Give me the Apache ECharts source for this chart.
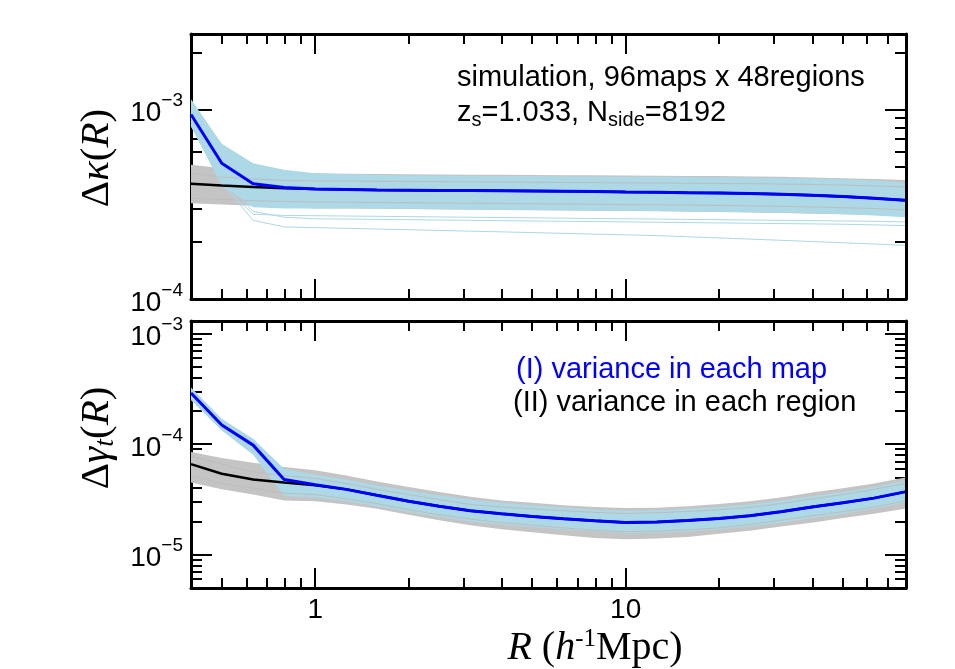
<!DOCTYPE html>
<html>
<head>
<meta charset="utf-8">
<script src="https://cdn.jsdelivr.net/npm/echarts@6/dist/echarts.min.js"></script>
<style>html,body{margin:0;padding:0;background:#fff}#c{width:955px;height:669px}</style>
</head>
<body>
<div id="c"></div>
<script>
// ---- data ----
const R = [0.398,0.5,0.631,0.794,1.0,1.26,1.58,2.0,2.51,3.16,3.98,5.01,6.31,7.94,10,12.6,15.8,20,25.1,31.6,39.8,50.1,63.1,79.4];

// top panel: Delta kappa
const kMap   = [9.4e-4,5.2e-4,4.05e-4,3.87e-4,3.80e-4,3.78e-4,3.76e-4,3.75e-4,3.74e-4,3.73e-4,3.72e-4,3.71e-4,3.70e-4,3.69e-4,3.67e-4,3.66e-4,3.64e-4,3.62e-4,3.60e-4,3.57e-4,3.53e-4,3.47e-4,3.40e-4,3.32e-4];
const kReg   = [4.05e-4,3.97e-4,3.90e-4,3.84e-4,3.80e-4,3.78e-4,3.76e-4,3.75e-4,3.74e-4,3.73e-4,3.72e-4,3.71e-4,3.70e-4,3.69e-4,3.67e-4,3.66e-4,3.64e-4,3.62e-4,3.60e-4,3.57e-4,3.53e-4,3.47e-4,3.40e-4,3.32e-4];
const kMapHi = [1.13e-3,6.6e-4,5.2e-4,4.8e-4,4.6e-4,4.55e-4,4.52e-4,4.5e-4,4.48e-4,4.47e-4,4.46e-4,4.45e-4,4.44e-4,4.43e-4,4.42e-4,4.41e-4,4.4e-4,4.39e-4,4.37e-4,4.35e-4,4.32e-4,4.28e-4,4.22e-4,4.12e-4];
const kMapLo = [8.1e-4,4.0e-4,3.05e-4,3.0e-4,3.0e-4,3.0e-4,3.0e-4,2.99e-4,2.98e-4,2.97e-4,2.96e-4,2.95e-4,2.94e-4,2.93e-4,2.92e-4,2.91e-4,2.9e-4,2.89e-4,2.87e-4,2.85e-4,2.83e-4,2.8e-4,2.76e-4,2.7e-4];
const kRegHi = [5.1e-4,4.9e-4,4.75e-4,4.65e-4,4.6e-4,4.58e-4,4.56e-4,4.55e-4,4.54e-4,4.53e-4,4.52e-4,4.51e-4,4.5e-4,4.49e-4,4.48e-4,4.47e-4,4.46e-4,4.45e-4,4.43e-4,4.41e-4,4.38e-4,4.34e-4,4.3e-4,4.25e-4];
const kRegLo = [3.2e-4,3.15e-4,3.1e-4,3.05e-4,3.0e-4,3.0e-4,2.99e-4,2.98e-4,2.97e-4,2.96e-4,2.95e-4,2.94e-4,2.93e-4,2.92e-4,2.91e-4,2.9e-4,2.89e-4,2.88e-4,2.86e-4,2.84e-4,2.82e-4,2.8e-4,2.77e-4,2.74e-4];
const kOutA  = [8.6e-4,4.1e-4,2.6e-4,2.4e-4,2.38e-4,2.36e-4,2.34e-4,2.32e-4,2.3e-4,2.28e-4,2.26e-4,2.24e-4,2.22e-4,2.2e-4,2.18e-4,2.16e-4,2.13e-4,2.1e-4,2.07e-4,2.04e-4,2.01e-4,1.98e-4,1.95e-4,1.92e-4];
const kOutB  = [9.0e-4,4.4e-4,2.9e-4,2.7e-4,2.65e-4,2.64e-4,2.63e-4,2.62e-4,2.61e-4,2.6e-4,2.59e-4,2.58e-4,2.57e-4,2.56e-4,2.55e-4,2.54e-4,2.53e-4,2.52e-4,2.51e-4,2.5e-4,2.49e-4,2.48e-4,2.46e-4,2.44e-4];
const kOutC  = [8.3e-4,4.0e-4,2.8e-4,2.76e-4,2.75e-4,2.74e-4,2.73e-4,2.72e-4,2.71e-4,2.7e-4,2.69e-4,2.68e-4,2.67e-4,2.66e-4,2.65e-4,2.64e-4,2.63e-4,2.62e-4,2.61e-4,2.6e-4,2.59e-4,2.58e-4,2.57e-4,2.55e-4];
// a few individual region lines showing through the band
const kRegA  = [4.6e-4,4.4e-4,4.3e-4,4.22e-4,4.2e-4,4.19e-4,4.18e-4,4.17e-4,4.16e-4,4.15e-4,4.14e-4,4.13e-4,4.12e-4,4.11e-4,4.1e-4,4.09e-4,4.08e-4,4.07e-4,4.06e-4,4.04e-4,4.02e-4,3.99e-4,3.95e-4,3.9e-4];
const kRegB  = [3.4e-4,3.35e-4,3.3e-4,3.27e-4,3.25e-4,3.24e-4,3.23e-4,3.22e-4,3.21e-4,3.2e-4,3.19e-4,3.18e-4,3.17e-4,3.16e-4,3.15e-4,3.14e-4,3.13e-4,3.12e-4,3.1e-4,3.08e-4,3.06e-4,3.03e-4,3.0e-4,2.95e-4];

// bottom panel: Delta gamma_t
const gMap   = [2.9e-4,1.49e-4,9.8e-5,4.8e-5,4.3e-5,3.9e-5,3.45e-5,3.05e-5,2.75e-5,2.5e-5,2.35e-5,2.22e-5,2.12e-5,2.03e-5,1.96e-5,1.98e-5,2.04e-5,2.13e-5,2.25e-5,2.45e-5,2.7e-5,2.95e-5,3.25e-5,3.7e-5];
const gReg   = [6.6e-5,5.4e-5,4.8e-5,4.5e-5,4.25e-5,3.9e-5,3.45e-5,3.05e-5,2.75e-5,2.5e-5,2.35e-5,2.22e-5,2.12e-5,2.03e-5,1.96e-5,1.98e-5,2.04e-5,2.13e-5,2.25e-5,2.45e-5,2.7e-5,2.95e-5,3.25e-5,3.7e-5];
const gMapHi = [3.25e-4,1.7e-4,1.12e-4,6.0e-5,5.3e-5,4.8e-5,4.25e-5,3.8e-5,3.45e-5,3.15e-5,2.95e-5,2.8e-5,2.67e-5,2.57e-5,2.5e-5,2.52e-5,2.6e-5,2.7e-5,2.85e-5,3.1e-5,3.4e-5,3.7e-5,4.1e-5,4.7e-5];
const gMapLo = [2.5e-4,1.33e-4,8.0e-5,3.4e-5,3.3e-5,3.05e-5,2.75e-5,2.45e-5,2.2e-5,2.0e-5,1.88e-5,1.78e-5,1.7e-5,1.63e-5,1.57e-5,1.58e-5,1.62e-5,1.7e-5,1.8e-5,1.95e-5,2.15e-5,2.35e-5,2.6e-5,2.95e-5];
const gRegHi = [8.5e-5,7.5e-5,6.8e-5,6.2e-5,5.8e-5,5.2e-5,4.6e-5,4.1e-5,3.7e-5,3.35e-5,3.1e-5,2.95e-5,2.8e-5,2.7e-5,2.64e-5,2.66e-5,2.75e-5,2.88e-5,3.05e-5,3.3e-5,3.65e-5,4.0e-5,4.4e-5,5.0e-5];
const gRegLo = [4.5e-5,3.9e-5,3.5e-5,3.1e-5,3.05e-5,2.85e-5,2.6e-5,2.3e-5,2.05e-5,1.85e-5,1.7e-5,1.6e-5,1.5e-5,1.42e-5,1.38e-5,1.4e-5,1.45e-5,1.55e-5,1.65e-5,1.8e-5,1.95e-5,2.15e-5,2.35e-5,2.6e-5];
const gRegA  = [7.8e-5,6.6e-5,5.6e-5,5.2e-5,4.9e-5,4.4e-5,3.9e-5,3.5e-5,3.15e-5,2.85e-5,2.7e-5,2.6e-5,2.5e-5,2.42e-5,2.36e-5,2.4e-5,2.46e-5,2.55e-5,2.68e-5,2.9e-5,3.2e-5,3.5e-5,3.9e-5,4.4e-5];
const gRegB  = [5.2e-5,4.4e-5,4.0e-5,3.6e-5,3.5e-5,3.2e-5,2.9e-5,2.55e-5,2.3e-5,2.1e-5,1.95e-5,1.85e-5,1.75e-5,1.66e-5,1.62e-5,1.63e-5,1.68e-5,1.75e-5,1.87e-5,2.05e-5,2.25e-5,2.45e-5,2.7e-5,3.05e-5];

// axis ticks
const xRange = [0.398, 80];
const xMajor = [1, 10];
const xMinor = [0.5,0.6,0.7,0.8,0.9,2,3,4,5,6,7,8,9,20,30,40,50,60,70,80];
const yTopRange = [1e-4, 2.5e-3];
const yTopMajor = [1e-4, 1e-3];
const yTopMinor = [2e-4,3e-4,4e-4,5e-4,6e-4,7e-4,8e-4,9e-4,2e-3];
const yBotRange = [5e-6, 1.3e-3];
const yBotMajor = [1e-5, 1e-4, 1e-3];
const yBotMinor = [6e-6,7e-6,8e-6,9e-6,2e-5,3e-5,4e-5,5e-5,6e-5,7e-5,8e-5,9e-5,2e-4,3e-4,4e-4,5e-4,6e-4,7e-4,8e-4,9e-4];

// ---- build ----
const L = Math.log10;
const SANS = 'Liberation Sans, Arial, sans-serif';
const SERIF = 'Liberation Serif, Times New Roman, serif';
const chart = echarts.init(document.getElementById('c'), null, {renderer: 'canvas'});

const axisLineStyle = {color: '#000', width: 3};
const tickStyle = {width: 2, color: '#000'};
function xAxes(g, showLabels) {
  const base = {gridIndex: g, type: 'value', min: L(xRange[0]), max: L(xRange[1]), splitLine: {show: false}, axisPointer: {show: false}};
  const lab = {show: showLabels, customValues: xMajor.map(L), formatter: v => String(Math.round(Math.pow(10, v))),
               fontFamily: SANS, fontSize: 28, color: '#000', margin: 8};
  return [
    Object.assign({}, base, {position: 'bottom', axisLine: {show: true, onZero: false, lineStyle: axisLineStyle},
      axisTick: {show: true, inside: true, length: 20, customValues: xMajor.map(L), lineStyle: tickStyle}, axisLabel: lab}),
    Object.assign({}, base, {position: 'bottom', axisLine: {show: false, onZero: false},
      axisTick: {show: true, inside: true, length: 10, customValues: xMinor.map(L), lineStyle: tickStyle}, axisLabel: {show: false}}),
    Object.assign({}, base, {position: 'top', axisLine: {show: true, onZero: false, lineStyle: axisLineStyle},
      axisTick: {show: true, inside: true, length: 20, customValues: xMajor.map(L), lineStyle: tickStyle}, axisLabel: {show: false}}),
    Object.assign({}, base, {position: 'top', axisLine: {show: false, onZero: false},
      axisTick: {show: true, inside: true, length: 10, customValues: xMinor.map(L), lineStyle: tickStyle}, axisLabel: {show: false}})
  ];
}
function yAxes(g, range, major, minor) {
  const base = {gridIndex: g, type: 'value', min: L(range[0]), max: L(range[1]), splitLine: {show: false}, axisPointer: {show: false}};
  const lab = {show: true, customValues: major.map(L), margin: 8,
    formatter: v => '{b|10}{s|−' + Math.round(-v) + '}',
    rich: {b: {fontFamily: SANS, fontSize: 28, color: '#000', lineHeight: 36, verticalAlign: 'bottom'},
           s: {fontFamily: SANS, fontSize: 19, color: '#000', lineHeight: 19, verticalAlign: 'top'}}};
  return [
    Object.assign({}, base, {position: 'left', axisLine: {show: true, onZero: false, lineStyle: axisLineStyle},
      axisTick: {show: true, inside: true, length: 21, customValues: major.map(L), lineStyle: tickStyle}, axisLabel: lab}),
    Object.assign({}, base, {position: 'left', axisLine: {show: false, onZero: false},
      axisTick: {show: true, inside: true, length: 11, customValues: minor.map(L), lineStyle: tickStyle}, axisLabel: {show: false}}),
    Object.assign({}, base, {position: 'right', axisLine: {show: true, onZero: false, lineStyle: axisLineStyle},
      axisTick: {show: true, inside: true, length: 21, customValues: major.map(L), lineStyle: tickStyle}, axisLabel: {show: false}}),
    Object.assign({}, base, {position: 'right', axisLine: {show: false, onZero: false},
      axisTick: {show: true, inside: true, length: 11, customValues: minor.map(L), lineStyle: tickStyle}, axisLabel: {show: false}})
  ];
}

function line(g, vals, color, width, z) {
  return {type: 'line', xAxisIndex: g * 4, yAxisIndex: g * 4, data: R.map((r, i) => [L(r), L(vals[i])]),
    showSymbol: false, symbol: 'none', lineStyle: {color: color, width: width}, z: z, silent: true, clip: true};
}
function band(g, hi, lo, color, z) {
  const d = R.map((r, i) => [L(r), L(hi[i]), L(lo[i])]);
  return {type: 'custom', xAxisIndex: g * 4, yAxisIndex: g * 4, data: d, encode: {x: 0, y: [1, 2]}, z: z, silent: true,
    renderItem: function (params, api) {
      if (params.dataIndex !== 0) return null;
      const pts = [];
      for (let i = 0; i < d.length; i++) pts.push(api.coord([d[i][0], d[i][1]]));
      for (let i = d.length - 1; i >= 0; i--) pts.push(api.coord([d[i][0], d[i][2]]));
      return {type: 'polygon', shape: {points: pts}, style: {fill: color}};
    }};
}

const GRAY = '#c4c4c4', LBLUE = '#add8e6';
const series = [
  band(0, kRegHi, kRegLo, GRAY, 1),
  band(0, kMapHi, kMapLo, LBLUE, 2),
  line(0, kRegA, '#bdbdbd', 1, 3), line(0, kRegB, '#bdbdbd', 1, 3),
  line(0, kOutA, LBLUE, 1, 3), line(0, kOutB, LBLUE, 1, 3), line(0, kOutC, LBLUE, 1, 3),
  line(0, kReg, '#000', 2.5, 4),
  line(0, kMap, '#0000ff', 3, 5),
  band(1, gRegHi, gRegLo, GRAY, 1),
  band(1, gMapHi, gMapLo, LBLUE, 2),
  line(1, gRegA, '#bdbdbd', 1, 3), line(1, gRegB, '#bdbdbd', 1, 3),
  line(1, gReg, '#000', 2.5, 4),
  line(1, gMap, '#0000ff', 3, 5)
];

const option = {
  animation: false,
  backgroundColor: '#fff',
  grid: [
    {left: 191, top: 34, width: 715, height: 265},
    {left: 191, top: 321, width: 715, height: 267}
  ],
  xAxis: [].concat(xAxes(0, false), xAxes(1, true)),
  yAxis: [].concat(yAxes(0, yTopRange, yTopMajor, yTopMinor), yAxes(1, yBotRange, yBotMajor, yBotMinor)),
  series: series,
  graphic: [
    {type: 'text', x: 457, y: 78, z: 10, style: {text: 'simulation, 96maps x 48regions', font: '29px ' + SANS, fill: '#000', align: 'left', verticalAlign: 'middle'}},
    {type: 'text', x: 457, y: 113, z: 10, style: {text: 'z{sub|s}=1.033, N{sub|side}=8192', font: '29px ' + SANS, fill: '#000', align: 'left', verticalAlign: 'middle',
      rich: {sub: {fontSize: 20, fontFamily: SANS, padding: [15, 0, 0, 0], verticalAlign: 'bottom'}}}},
    {type: 'text', x: 516, y: 370, z: 10, style: {text: '(I) variance in each map', font: '29px ' + SANS, fill: '#0000ff', align: 'left', verticalAlign: 'middle'}},
    {type: 'text', x: 513, y: 403, z: 10, style: {text: '(II) variance in each region', font: '29px ' + SANS, fill: '#000', align: 'left', verticalAlign: 'middle'}},
    {type: 'text', x: 97, y: 158, rotation: Math.PI / 2, z: 10, style: {
      text: '{n|Δ}{i|κ}{n|(}{i|R}{n|)}', align: 'center', verticalAlign: 'middle',
      rich: {n: {fontFamily: SERIF, fontSize: 41, color: '#000'}, i: {fontFamily: SERIF, fontStyle: 'italic', fontSize: 41, color: '#000'}}}},
    {type: 'text', x: 97, y: 438, rotation: Math.PI / 2, z: 10, style: {
      text: '{n|Δ}{i|γ}{sub|t}{n|(}{i|R}{n|)}', align: 'center', verticalAlign: 'middle',
      rich: {n: {fontFamily: SERIF, fontSize: 41, color: '#000'}, i: {fontFamily: SERIF, fontStyle: 'italic', fontSize: 41, color: '#000'},
             sub: {fontFamily: SERIF, fontStyle: 'italic', fontSize: 28, color: '#000', padding: [18, 0, 0, 0]}}}},
    {type: 'text', x: 595, y: 648, z: 10, style: {
      text: '{i|R}{n| (}{i|h}{sup|-1}{n|Mpc)}', align: 'center', verticalAlign: 'middle',
      rich: {n: {fontFamily: SERIF, fontSize: 40, color: '#000'}, i: {fontFamily: SERIF, fontStyle: 'italic', fontSize: 40, color: '#000'},
             sup: {fontFamily: SERIF, fontSize: 25, color: '#000', padding: [0, 0, 18, 0]}}}}
  ]
};
chart.setOption(option);
</script>
</body>
</html>
